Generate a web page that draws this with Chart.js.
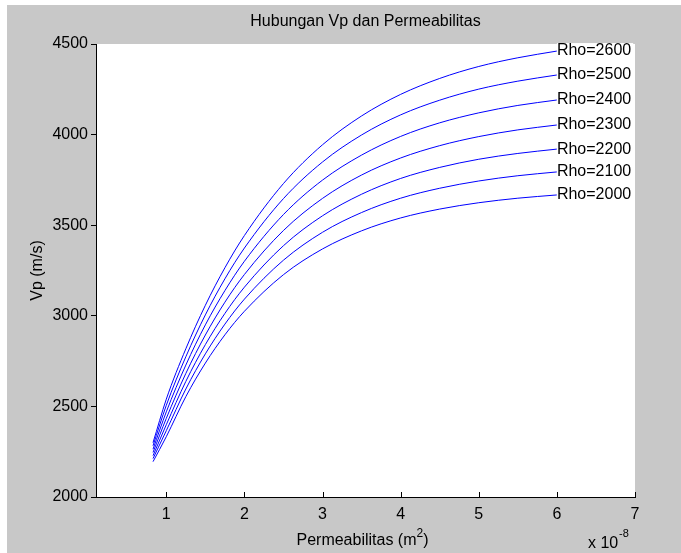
<!DOCTYPE html>
<html lang="en">
<head>
    <meta charset="UTF-8">
    <title>Hubungan Vp dan Permeabilitas</title>
    <style>
        body {
            margin: 0;
            background-color: #ffffff;
        }
        .figure {
            position: absolute;
            left: 7px;
            top: 5px;
            width: 674px;
            height: 548px;
            background-color: #c8c8c8;
        }
    </style>
</head>
<body>
    <div class="figure">
        <canvas id="vpChart"></canvas>
    </div>

    <script src="https://cdn.jsdelivr.net/npm/chart.js"></script>
    <script>
        // Permeability (x 1e-8 m^2) sample points
        const perm = [0.83, 1, 1.25, 1.5, 1.75, 2, 2.5, 3, 3.5, 4, 4.5, 5, 5.5, 6];

        // Vp (m/s) for each density
        const rho2000 = [2195, 2333, 2554, 2739, 2895, 3025, 3227, 3369, 3469, 3540, 3589, 3624, 3649, 3667];
        const rho2100 = [2212, 2366, 2596, 2790, 2954, 3092, 3307, 3461, 3570, 3649, 3704, 3744, 3773, 3794];
        const rho2200 = [2228, 2399, 2638, 2841, 3013, 3158, 3387, 3552, 3671, 3758, 3819, 3864, 3896, 3920];
        const rho2300 = [2246, 2434, 2682, 2894, 3075, 3228, 3471, 3648, 3777, 3871, 3939, 3989, 4026, 4053];
        const rho2400 = [2264, 2470, 2728, 2950, 3139, 3301, 3559, 3749, 3887, 3990, 4065, 4120, 4161, 4191];
        const rho2500 = [2283, 2506, 2774, 3005, 3204, 3374, 3647, 3849, 3998, 4109, 4190, 4251, 4295, 4329];
        const rho2600 = [2300, 2540, 2818, 3058, 3265, 3443, 3730, 3944, 4103, 4222, 4310, 4376, 4424, 4461];

        const seriesNames = ['Rho=2000', 'Rho=2100', 'Rho=2200', 'Rho=2300', 'Rho=2400', 'Rho=2500', 'Rho=2600'];
        const seriesValues = [rho2000, rho2100, rho2200, rho2300, rho2400, rho2500, rho2600];

        const xTicks = [1, 2, 3, 4, 5, 6, 7];
        const yTicks = [2000, 2500, 3000, 3500, 4000, 4500];

        const font = "'Liberation Sans Narrow', 'Liberation Sans', Arial, sans-serif";

        const datasets = seriesValues.map((vals, i) => ({
            label: seriesNames[i],
            data: vals.map((v, j) => ({ x: perm[j], y: v })),
            borderColor: '#0000ff',
            borderWidth: 1,
            pointRadius: 0,
            fill: false,
            cubicInterpolationMode: 'monotone'
        }));

        // white axes background
        const axesBg = {
            id: 'axesBg',
            beforeDraw(chart) {
                const a = chart.chartArea;
                chart.ctx.save();
                chart.ctx.fillStyle = '#fff';
                chart.ctx.fillRect(a.left, a.top, a.right - a.left, a.bottom - a.top);
                chart.ctx.restore();
            }
        };

        // titles, inward x ticks and the Rho labels at the curve ends
        const matlabDecor = {
            id: 'matlabDecor',
            afterDraw(chart) {
                const ctx = chart.ctx;
                const xs = chart.scales.x;
                const ys = chart.scales.y;
                const area = chart.chartArea;
                ctx.save();

                // inward ticks on the x axis
                ctx.strokeStyle = '#000';
                ctx.lineWidth = 1;
                xTicks.forEach(t => {
                    const px = Math.round(xs.getPixelForValue(t)) + 0.5;
                    ctx.beginPath();
                    ctx.moveTo(px, area.bottom);
                    ctx.lineTo(px, area.bottom - 5);
                    ctx.stroke();
                });

                // curve labels
                ctx.font = '16px ' + font;
                ctx.textBaseline = 'middle';
                ctx.textAlign = 'left';
                seriesValues.forEach((vals, i) => {
                    const px = xs.getPixelForValue(perm[perm.length - 1]);
                    const py = ys.getPixelForValue(vals[vals.length - 1]);
                    const w = ctx.measureText(seriesNames[i]).width;
                    ctx.fillStyle = '#fff';
                    ctx.fillRect(px, py - 8, w + 2, 16);
                    ctx.fillStyle = '#000';
                    ctx.fillText(seriesNames[i], px, py);
                });

                // title
                ctx.textAlign = 'center';
                ctx.fillText('Hubungan Vp dan Permeabilitas', (area.left + area.right) / 2, 17);

                // x label with superscript
                const cx = (area.left + area.right) / 2 - 3;
                const main = 'Permeabilitas (m';
                const wMain = ctx.measureText(main).width;
                ctx.font = '12px ' + font;
                const wSup = ctx.measureText('2').width;
                ctx.font = '16px ' + font;
                const wClose = ctx.measureText(')').width;
                const start = cx - (wMain + wSup + wClose) / 2;
                ctx.textAlign = 'left';
                ctx.fillText(main, start, 536);
                ctx.font = '12px ' + font;
                ctx.fillText('2', start + wMain, 529);
                ctx.font = '16px ' + font;
                ctx.fillText(')', start + wMain + wSup, 536);

                // exponent
                ctx.fillText('x 10', 581, 539);
                ctx.font = '11px ' + font;
                ctx.fillText('-8', 612, 529);

                // y label
                ctx.font = '16px ' + font;
                ctx.translate(31, (area.top + area.bottom) / 2);
                ctx.rotate(-Math.PI / 2);
                ctx.textAlign = 'center';
                ctx.fillText('Vp (m/s)', 0, 0);
                ctx.restore();
            }
        };

        new Chart(document.getElementById('vpChart'), {
            type: 'line',
            data: { datasets: datasets },
            plugins: [axesBg, matlabDecor],
            options: {
                responsive: true,
                maintainAspectRatio: false,
                animation: false,
                layout: { padding: { top: 39, right: 46, left: 0, bottom: 0 } },
                plugins: {
                    legend: { display: false },
                    tooltip: { enabled: false }
                },
                scales: {
                    x: {
                        type: 'linear',
                        min: 0.1,
                        max: 7,
                        afterBuildTicks: s => { s.ticks = xTicks.map(v => ({ value: v })); },
                        afterFit: s => { s.height = 56; },
                        grid: { drawOnChartArea: false, drawTicks: false },
                        border: { display: true, color: '#000', width: 1 },
                        ticks: {
                            autoSkip: false,
                            maxRotation: 0,
                            padding: 8,
                            color: '#000',
                            font: { family: font, size: 16 },
                            callback: v => String(v)
                        }
                    },
                    y: {
                        type: 'linear',
                        min: 2000,
                        max: 4500,
                        afterBuildTicks: s => { s.ticks = yTicks.map(v => ({ value: v })); },
                        afterFit: s => { s.width = 89; },
                        grid: { drawOnChartArea: false, drawTicks: true, tickLength: 5, color: '#000' },
                        border: { display: true, color: '#000', width: 1 },
                        ticks: {
                            autoSkip: false,
                            padding: 3,
                            color: '#000',
                            font: { family: font, size: 16 },
                            callback: v => String(v)
                        }
                    }
                }
            }
        });
    </script>
</body>
</html>
